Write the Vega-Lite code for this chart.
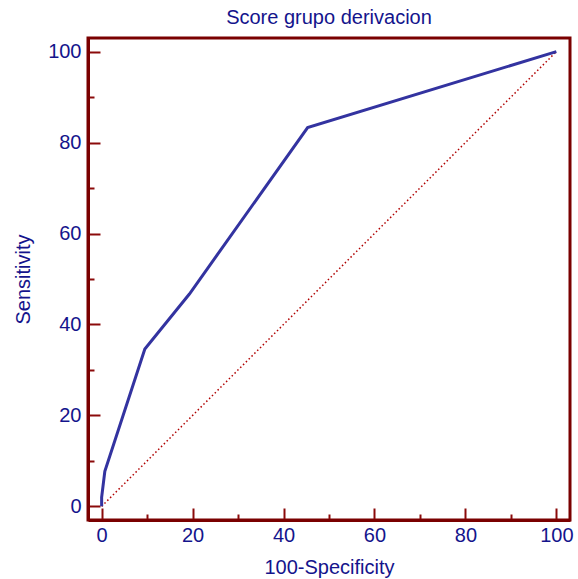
{
  "$schema": "https://vega.github.io/schema/vega-lite/v6.json",
  "width": 482,
  "height": 482,
  "autosize": "none",
  "padding": {"left": 88, "top": 38, "right": 8, "bottom": 59},
  "title": {"text": "Score grupo derivacion", "font": "Liberation Sans", "fontSize": 20, "fontWeight": "normal", "color": "#14148c", "offset": 10, "anchor": "middle"},
  "config": {
    "view": {"stroke": "#7a0000", "strokeWidth": 3},
    "axis": {"domainColor": "#7a0000", "domainWidth": 3, "tickColor": "#8b0a0a", "tickWidth": 2, "labelFont": "Liberation Sans", "labelFontSize": 20, "labelColor": "#14148c", "titleFont": "Liberation Sans", "titleFontSize": 20, "titleFontWeight": "normal", "titleColor": "#14148c", "grid": false}
  },
  "datasets": {
    "roc": [
      {"fpr": 0, "tpr": 0},
      {"fpr": 0, "tpr": 2},
      {"fpr": 0.7, "tpr": 7.7},
      {"fpr": 9.5, "tpr": 34.6},
      {"fpr": 19.3, "tpr": 46.7},
      {"fpr": 45.3, "tpr": 83.3},
      {"fpr": 100, "tpr": 100}
    ],
    "diag": [
      {"fpr": 0, "tpr": 0},
      {"fpr": 100, "tpr": 100}
    ]
  },
  "layer": [
    {
      "data": {"name": "diag"},
      "mark": {"type": "line", "color": "#b00000", "strokeWidth": 1.5, "strokeDash": [1.5, 2.5]},
      "encoding": {
        "x": {"field": "fpr", "type": "quantitative", "scale": {"domain": [-3, 103], "nice": false},
          "axis": {"title": "100-Specificity", "values": [0,5,10,15,20,25,30,35,40,45,50,55,60,65,70,75,80,85,90,95,100],
            "labelExpr": "datum.value % 20 === 0 ? datum.label : ''",
            "tickSize": {"condition": {"test": "datum.value % 20 === 0", "value": -12}, "value": -6},
            "labelPadding": 17, "titlePadding": 12}},
        "y": {"field": "tpr", "type": "quantitative", "scale": {"domain": [-3, 103], "nice": false},
          "axis": {"title": "Sensitivity", "values": [0,5,10,15,20,25,30,35,40,45,50,55,60,65,70,75,80,85,90,95,100],
            "labelExpr": "datum.value % 20 === 0 ? datum.label : ''",
            "tickSize": {"condition": {"test": "datum.value % 20 === 0", "value": -12}, "value": -6},
            "labelPadding": 19, "titlePadding": 14}}
      }
    },
    {
      "data": {"name": "roc"},
      "mark": {"type": "line", "color": "#3333a0", "strokeWidth": 3},
      "encoding": {
        "x": {"field": "fpr", "type": "quantitative"},
        "y": {"field": "tpr", "type": "quantitative"}
      }
    }
  ]
}
